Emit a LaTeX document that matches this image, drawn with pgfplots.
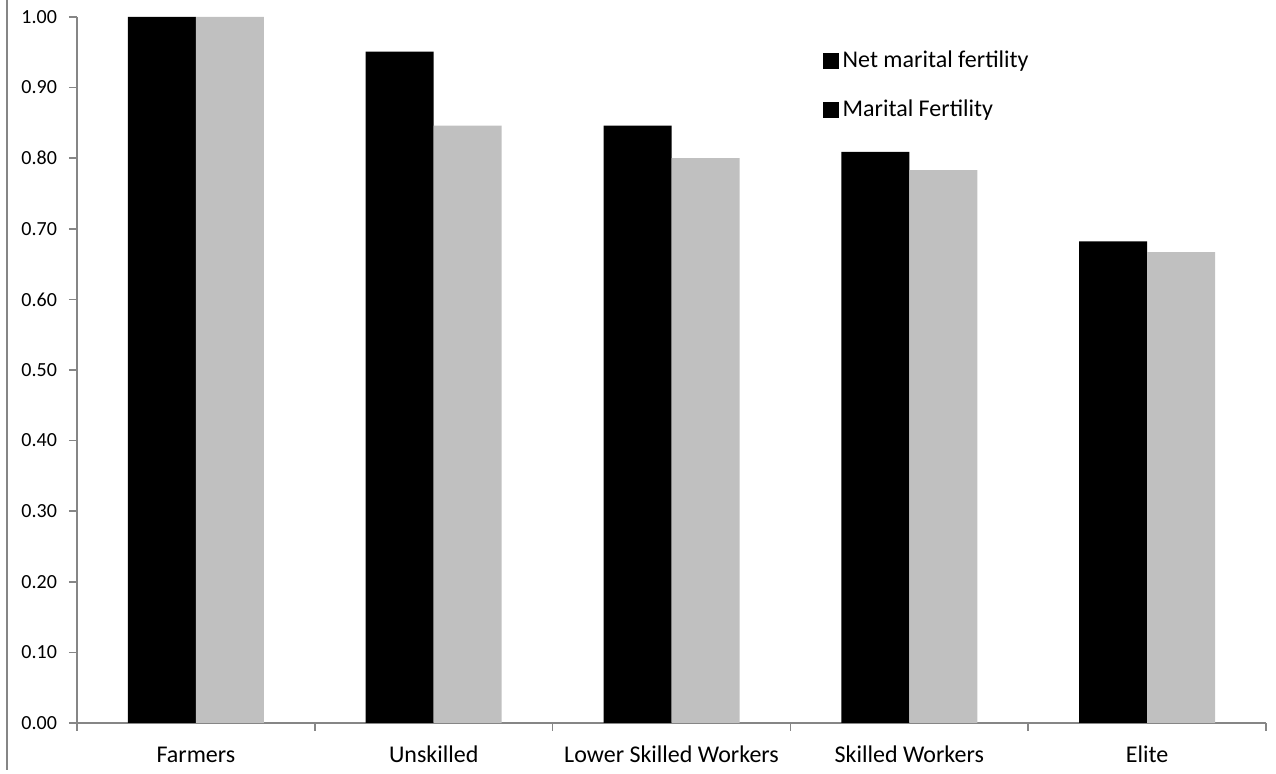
\documentclass[border=0pt]{standalone}
\usepackage{pgfplots}
\pgfplotsset{compat=1.18}
\usepackage{fontspec}
\setmainfont{Carlito}
\definecolor{axgray}{HTML}{868686}
\definecolor{bargray}{HTML}{C0C0C0}
\begin{document}
\begin{tikzpicture}[x=1pt,y=1pt]
\useasboundingbox (0,0) rectangle (638,387);
\draw[axgray, line width=0.8pt] (3.5,2) -- (3.5,387);
\begin{axis}[
  at={(38.5pt,25.5pt)}, anchor=south west,
  scale only axis, width=594.5pt, height=353pt,
  xmin=-0.5, xmax=4.5, ymin=0, ymax=1,
  axis x line=bottom, axis y line=left,
  axis line style={axgray, line width=0.8pt, -},
  xtick={0,1,2,3,4},
  xticklabels={Farmers, Unskilled, Lower Skilled Workers, Skilled Workers, Elite},
  minor xtick={-0.5,0.5,1.5,2.5,3.5,4.5},
  major x tick style={draw=none},
  minor tick length=4pt,
  ytick={0,0.1,...,1.01},
  major tick length=4pt,
  tick align=outside,
  tick style={axgray, line width=0.8pt},
  yticklabel={\pgfmathprintnumber[fixed,fixed zerofill,precision=2]{\tick}},
  /pgf/number format/assume math mode=true,
  yticklabel style={font=\fontsize{10}{12}\selectfont, text=black, xshift=-2.5pt},
  xticklabel style={font=\fontsize{12}{14}\selectfont, text=black, text height=9pt, text depth=2pt, yshift=-3pt},
  ybar, bar width=34pt,
  legend style={at={(0.627,0.958)}, anchor=north west, draw=none, fill=none,
    font=\fontsize{12}{14}\selectfont, row sep=10.7pt, inner sep=0pt},
  legend cell align=left,
  legend image code/.code={\fill[black] (0pt,-3.75pt) rectangle (7.5pt,3.75pt);},
]
\addplot[fill=black, draw=none, bar shift=-17pt, forget plot] coordinates {(0,1.00) (1,0.951) (2,0.846) (3,0.809) (4,0.682)};
\addplot[fill=bargray, draw=none, bar shift=17pt, forget plot] coordinates {(0,1.00) (1,0.846) (2,0.800) (3,0.783) (4,0.667)};
\addlegendimage{fill=black}
\addlegendentry{Net marital fertility}
\addlegendimage{fill=black}
\addlegendentry{Marital Fertility}
\end{axis}
\end{tikzpicture}
\end{document}
